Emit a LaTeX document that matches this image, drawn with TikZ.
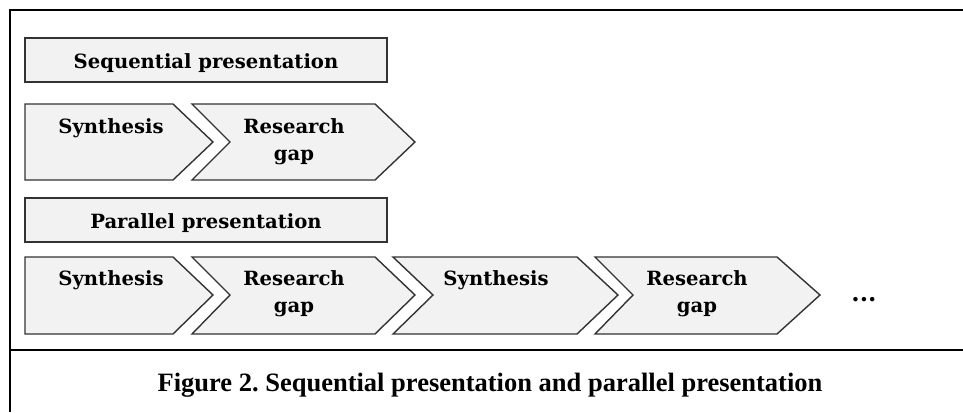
\documentclass[tikz,border=0pt]{standalone}
\usepackage{fontspec}
\setmainfont{Liberation Serif}
\newfontfamily\boxfont{DejaVu Serif}
\definecolor{boxfill}{HTML}{F2F2F2}
\definecolor{boxline}{HTML}{333333}
\frenchspacing
\begin{document}
\begin{tikzpicture}[x=1pt,y=-1pt,
  frame/.style={line width=2.2pt,black},
  chev/.style={fill=boxfill,draw=boxline,line width=1.4pt,line join=miter},
  titlebox/.style={fill=boxfill,draw=boxline,line width=1.4pt},
  lbl/.style={font=\boxfont\bfseries\fontsize{19.6}{27}\selectfont,align=center,inner sep=0pt,anchor=base},
  captxt/.style={font=\bfseries\fontsize{26.5}{30}\selectfont,inner sep=0pt,anchor=base}]
\useasboundingbox (0,0) rectangle (963,412);
% frame
\draw[frame] (10,412) -- (10,10) -- (963,10);
\draw[frame] (10,350) -- (963,350);
% sequential
\draw[titlebox] (25,38) rectangle (387,82);
\node[lbl] (seqt) at (206,68) {Sequential presentation};
\draw[chev] (25,104) -- (173,104) -- (213,142) -- (173,180) -- (25,180) -- cycle;
\draw[chev] (192,104) -- (375,104) -- (415,142) -- (375,180) -- (192,180) -- (230,142) -- cycle;
\node[lbl] (s1) at (111,133) {Synthesis};
\node[lbl] (r1) at (294,160) {Research\\gap};
% parallel
\draw[titlebox] (25,198) rectangle (387,242);
\node[lbl] (part) at (206,228) {Parallel presentation};
\draw[chev] (25,257) -- (173,257) -- (213,295) -- (173,334) -- (25,334) -- cycle;
\draw[chev] (192,257) -- (375,257) -- (415,295) -- (375,334) -- (192,334) -- (230,295) -- cycle;
\draw[chev] (393,257) -- (577,257) -- (618,295) -- (577,334) -- (393,334) -- (433,295) -- cycle;
\draw[chev] (595,257) -- (777,257) -- (820,295) -- (777,334) -- (595,334) -- (633,295) -- cycle;
\node[lbl] (s2) at (111,285) {Synthesis};
\node[lbl] (r2) at (294,312) {Research\\gap};
\node[lbl] (s3) at (496,285) {Synthesis};
\node[lbl] (r3) at (697,312) {Research\\gap};
\node[lbl,font=\boxfont\bfseries\fontsize{24}{27}\selectfont] (dots) at (864,301) {...};
% caption
\node[captxt] (caption) at (490,391) {Figure 2. Sequential presentation and parallel presentation};
\end{tikzpicture}
\end{document}
